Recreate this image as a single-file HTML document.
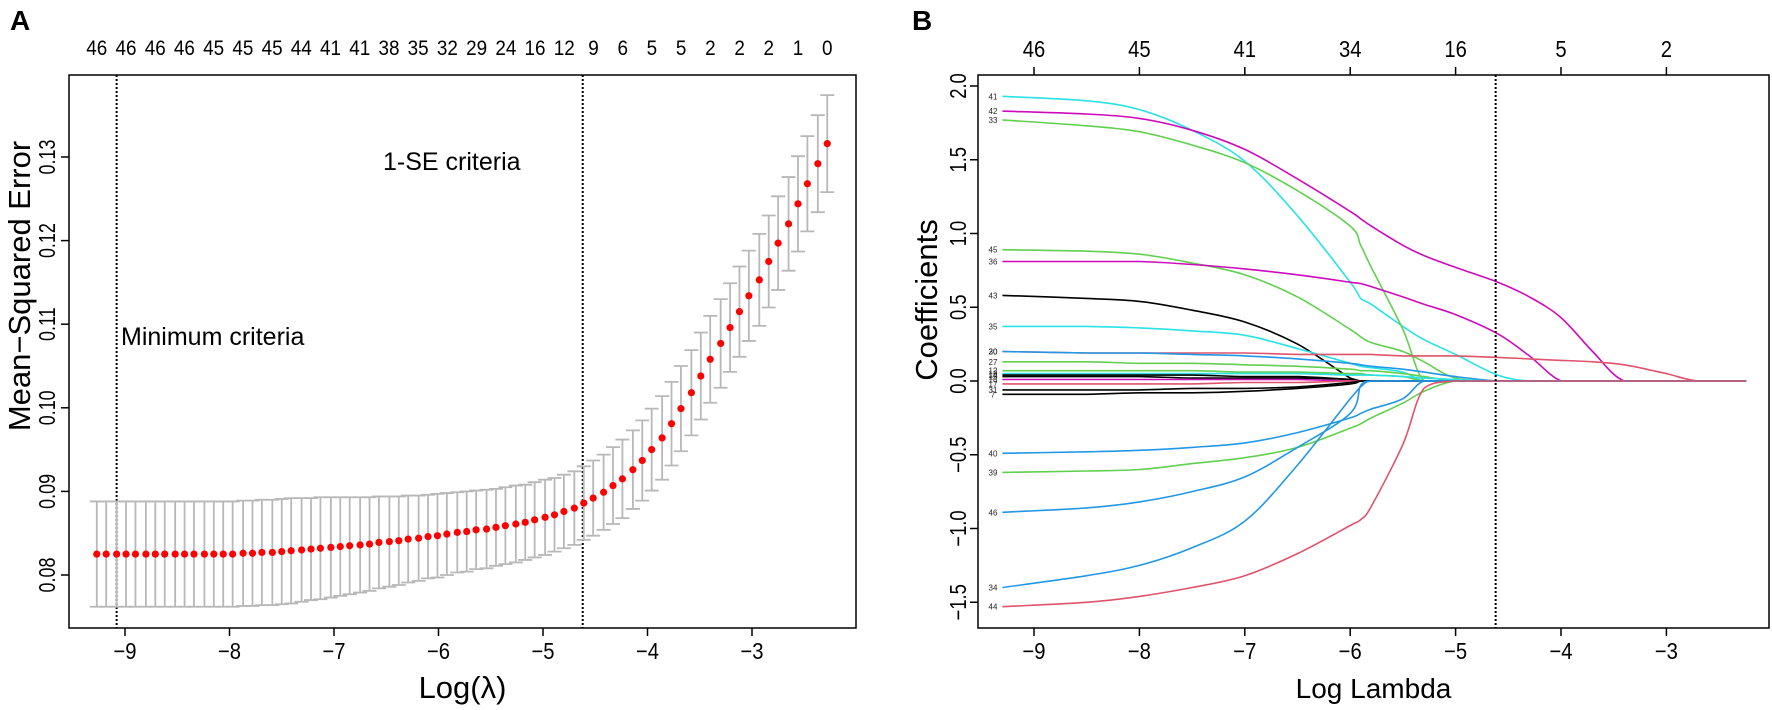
<!DOCTYPE html>
<html><head><meta charset="utf-8"><style>
html,body{margin:0;padding:0;background:#fff;}
svg{display:block;font-family:"Liberation Sans",Arial,sans-serif;}
</style></head><body>
<svg id="chart" width="1772" height="710" viewBox="0 0 1772 710" xmlns="http://www.w3.org/2000/svg">
<text x="10" y="30" font-size="28" font-weight="bold">A</text>
<text x="912" y="30" font-size="28" font-weight="bold">B</text>
<g id="pa"></g>
<g id="pb"></g>
</svg>
<script>
// ---------- Panel A data ----------
const lambdaA = [-9.27,-9.18,-9.08,-8.99,-8.90,-8.80,-8.71,-8.62,-8.52,-8.43,-8.34,-8.24,-8.15,-8.06,-7.97,-7.87,-7.78,-7.69,-7.59,-7.50,-7.41,-7.31,-7.22,-7.13,-7.03,-6.94,-6.85,-6.75,-6.66,-6.57,-6.47,-6.38,-6.29,-6.19,-6.10,-6.01,-5.92,-5.82,-5.73,-5.64,-5.54,-5.45,-5.36,-5.26,-5.17,-5.08,-4.98,-4.89,-4.80,-4.70,-4.61,-4.52,-4.42,-4.33,-4.24,-4.14,-4.05,-3.96,-3.86,-3.77,-3.68,-3.58,-3.49,-3.40,-3.30,-3.21,-3.12,-3.03,-2.93,-2.84,-2.75,-2.65,-2.56,-2.47,-2.37,-2.28];
const mseA = [0.0825,0.0825,0.0825,0.0825,0.0825,0.0825,0.0825,0.0825,0.0825,0.0825,0.0825,0.0825,0.0825,0.0825,0.0825,0.0826,0.0826,0.0827,0.0827,0.0828,0.0829,0.0830,0.0831,0.0832,0.0833,0.0834,0.0835,0.0836,0.0837,0.0839,0.0840,0.0841,0.0843,0.0844,0.0846,0.0847,0.0849,0.0851,0.0852,0.0854,0.0855,0.0857,0.0859,0.0861,0.0863,0.0866,0.0869,0.0872,0.0876,0.0880,0.0886,0.0892,0.0899,0.0907,0.0915,0.0926,0.0937,0.0950,0.0964,0.0981,0.0999,0.1018,0.1038,0.1058,0.1077,0.1096,0.1115,0.1134,0.1153,0.1175,0.1197,0.1220,0.1244,0.1268,0.1292,0.1316];
const seA = [0.0063,0.0063,0.0063,0.0063,0.0063,0.0063,0.0063,0.0063,0.0063,0.0063,0.0063,0.0063,0.0063,0.0063,0.0063,0.0063,0.0063,0.0063,0.0063,0.0063,0.0063,0.0062,0.0061,0.0061,0.0060,0.0059,0.0058,0.0057,0.0056,0.0055,0.0054,0.0053,0.0052,0.0051,0.0050,0.0050,0.0049,0.0048,0.0048,0.0047,0.0047,0.0046,0.0046,0.0046,0.0045,0.0045,0.0045,0.0044,0.0044,0.0044,0.0044,0.0045,0.0045,0.0046,0.0047,0.0047,0.0048,0.0049,0.0050,0.0050,0.0051,0.0051,0.0052,0.0052,0.0053,0.0053,0.0054,0.0054,0.0055,0.0055,0.0056,0.0056,0.0057,0.0057,0.0058,0.0058];
const topLabelsA = ["46","46","46","46","45","45","45","44","41","41","38","35","32","29","24","16","12","9","6","5","5","2","2","2","1","0"];
const xTicksA = [-9,-8,-7,-6,-5,-4,-3];
const yTicksA = [0.08,0.09,0.10,0.11,0.12,0.13];
const yTickLabelsA = ["0.08","0.09","0.10","0.11","0.12","0.13"];
const vlinesA = [-9.08,-4.62];

// ---------- Panel B data ----------
const lambdaB = [-9.3,-8.5,-8,-7.5,-7,-6.5,-6,-5.9,-5.8,-5.5,-5.3,-5,-4.6,-4.3,-4,-3.7,-3.4,-3,-2.7,-2.24];
const varNames = ["41","42","33","45","36","43","35","30","20","27","12","13","14","15","16","17","31","7","40","39","46","34","44"];
const varColors = ["#28E2E5","#CD0BBC","#61D04F","#61D04F","#CD0BBC","#000000","#28E2E5","#DF536B","#2297E6","#61D04F","#61D04F","#28E2E5","#000000","#000000","#CD0BBC","#DF536B","#000000","#000000","#2297E6","#61D04F","#2297E6","#2297E6","#DF536B"];
const c41 = [1.93,1.90,1.84,1.70,1.49,1.12,0.67,0.56,0.52,0.37,0.28,0.18,0.04,0,0,0,0,0,0,0];
const c42 = [1.83,1.81,1.78,1.70,1.57,1.37,1.15,1.10,1.05,0.92,0.85,0.77,0.67,0.57,0.43,0.20,0,0,0,0];
const c33 = [1.77,1.73,1.69,1.60,1.48,1.29,1.05,0.92,0.77,0.35,0,0,0,0,0,0,0,0,0,0];
const c45 = [0.89,0.88,0.86,0.80,0.72,0.57,0.35,0.30,0.26,0.20,0.13,0.02,0,0,0,0,0,0,0,0];
const c36 = [0.81,0.81,0.81,0.79,0.76,0.72,0.67,0.66,0.64,0.57,0.52,0.45,0.32,0.17,0,0,0,0,0,0];
const c43 = [0.58,0.56,0.54,0.48,0.40,0.25,0.02,0,0,0,0,0,0,0,0,0,0,0,0,0];
const c35 = [0.37,0.37,0.36,0.34,0.31,0.22,0.12,0.10,0.09,0.06,0,0,0,0,0,0,0,0,0,0];
const c30 = [0.20,0.19,0.19,0.19,0.19,0.18,0.18,0.18,0.18,0.17,0.17,0.17,0.16,0.15,0.14,0.13,0.11,0.05,0,0];
const c20 = [0.20,0.19,0.19,0.18,0.17,0.15,0.12,0.11,0.10,0.08,0.06,0.03,0,0,0,0,0,0,0,0];
const c27 = [0.13,0.13,0.12,0.12,0.11,0.10,0.08,0.07,0.07,0.05,0.03,0,0,0,0,0,0,0,0,0];
const c12 = [0.07,0.07,0.07,0.07,0.06,0.06,0.05,0.05,0.04,0.03,0,0,0,0,0,0,0,0,0,0];
const c13 = [0.05,0.05,0.05,0.05,0.05,0.05,0.04,0.04,0.04,0.03,0.02,0.01,0,0,0,0,0,0,0,0];
const c14 = [0.04,0.04,0.04,0.04,0.03,0.03,0.01,0,0,0,0,0,0,0,0,0,0,0,0,0];
const c15 = [0.03,0.03,0.03,0.02,0.02,0.02,0.01,0,0,0,0,0,0,0,0,0,0,0,0,0];
const c16 = [0.01,0.01,0.01,0.01,0.01,0.01,0,0,0,0,0,0,0,0,0,0,0,0,0,0];
const c17 = [-0.02,-0.02,-0.02,-0.02,-0.01,-0.01,0,0,0,0,0,0,0,0,0,0,0,0,0,0];
const c31 = [-0.06,-0.06,-0.06,-0.05,-0.05,-0.04,-0.01,0,0,0,0,0,0,0,0,0,0,0,0,0];
const c7 = [-0.09,-0.09,-0.08,-0.08,-0.07,-0.05,-0.02,0,0,0,0,0,0,0,0,0,0,0,0,0];
const c40 = [-0.49,-0.48,-0.47,-0.45,-0.42,-0.35,-0.25,-0.22,-0.19,-0.12,0,0,0,0,0,0,0,0,0,0];
const c39 = [-0.62,-0.61,-0.60,-0.56,-0.52,-0.45,-0.32,-0.29,-0.25,-0.15,-0.07,0,0,0,0,0,0,0,0,0];
const c46 = [-0.89,-0.86,-0.82,-0.75,-0.65,-0.45,-0.22,-0.03,0,0,0,0,0,0,0,0,0,0,0,0];
const c34 = [-1.40,-1.32,-1.25,-1.13,-0.95,-0.57,-0.12,-0.04,0,0,0,0,0,0,0,0,0,0,0,0];
const c44 = [-1.53,-1.50,-1.46,-1.40,-1.32,-1.17,-0.98,-0.94,-0.85,-0.43,-0.05,0,0,0,0,0,0,0,0,0];
const coefSeries = [c41,c42,c33,c45,c36,c43,c35,c30,c20,c27,c12,c13,c14,c15,c16,c17,c31,c7,c40,c39,c46,c34,c44];
const topTicksB = [-9,-8,-7,-6,-5,-4,-3];
const topLabelsB = ["46","45","41","34","16","5","2"];
const xTicksB = [-9,-8,-7,-6,-5,-4,-3];
const yTicksB = [-1.5,-1.0,-0.5,0.0,0.5,1.0,1.5,2.0];
const yTickLabelsB = ["\u22121.5","\u22121.0","\u22120.5","0.0","0.5","1.0","1.5","2.0"];
const vlineB = -4.62;

const NS = "http://www.w3.org/2000/svg";
function mk(parent, tag, attrs, txt){
  const e = document.createElementNS(NS, tag);
  for (const k in attrs) e.setAttribute(k, attrs[k]);
  if (txt !== undefined) e.textContent = txt;
  parent.appendChild(e);
  return e;
}
function smooth(pts){
  let d = 'M'+pts[0][0].toFixed(1)+','+pts[0][1].toFixed(1);
  for (let i=0;i<pts.length-1;i++){
    const p0 = pts[i-1]||pts[i], p1 = pts[i], p2 = pts[i+1], p3 = pts[i+2]||pts[i+1];
    let c1y = p1[1]+(p2[1]-p0[1])/6, c2y = p2[1]-(p3[1]-p1[1])/6;
    const lo = Math.min(p1[1],p2[1]), hi = Math.max(p1[1],p2[1]);
    c1y = Math.max(lo,Math.min(hi,c1y)); c2y = Math.max(lo,Math.min(hi,c2y));
    const c1x = p1[0]+(p2[0]-p0[0])/6, c2x = p2[0]-(p3[0]-p1[0])/6;
    d += 'C'+c1x.toFixed(1)+','+c1y.toFixed(1)+' '+c2x.toFixed(1)+','+c2y.toFixed(1)+' '+p2[0].toFixed(1)+','+p2[1].toFixed(1);
  }
  return d;
}
const T = 75, B = 628;

// ---------- Panel A ----------
const pa = document.getElementById('pa');
const axA = { l:69, r:856 };
const xA = v => 125 + (v + 9) * 104.5;
const yA = v => 575 - (v - 0.08) * 8360;
let el;
el = mk(pa,'rect',{x:axA.l,y:T,width:axA.r-axA.l,height:B-T,fill:'none',stroke:'#000','stroke-width':1.5});


xTicksA.forEach(t=>{
  el = mk(pa,'line',{x1:xA(t),x2:xA(t),y1:B,y2:B+8,stroke:'#000','stroke-width':1.5});
  
  
  el = mk(pa,'text',{x:0,y:0,'font-size':23,'text-anchor':'middle',transform:`translate(${xA(t)},${B+31}) scale(0.88,1)`},'\u2212'+Math.abs(t));
  
  
});
yTicksA.forEach((t,i)=>{
  el = mk(pa,'line',{x1:axA.l-8,x2:axA.l,y1:yA(t),y2:yA(t),stroke:'#000','stroke-width':1.5});
  
  
  el = mk(pa,'text',{x:0,y:0,'font-size':23,'text-anchor':'middle',transform:`translate(55,${yA(t)}) rotate(-90) scale(0.78,1)`},yTickLabelsA[i]);
  
  
});
el = mk(pa,'text',{x:0,y:0,'font-size':31,'text-anchor':'middle',transform:'translate(30,286) rotate(-90)'},'Mean\u2212Squared Error');


el = mk(pa,'text',{x:(axA.l+axA.r)/2,y:698,'font-size':31,'text-anchor':'middle'},'Log(\u03bb)');


topLabelsA.forEach((s,k)=>{
  const lam = lambdaA[0] + k*(lambdaA[lambdaA.length-1]-lambdaA[0])/(topLabelsA.length-1);
  el = mk(pa,'text',{x:0,y:0,'font-size':21,'text-anchor':'middle',transform:`translate(${xA(lam)},55) scale(0.9,1)`},s);
  
  
});
vlinesA.forEach(v=>{
  el = mk(pa,'line',{x1:xA(v),x2:xA(v),y1:T,y2:B,stroke:'#000','stroke-width':2,'stroke-dasharray':'2,2'});
  
  
});
lambdaA.forEach((l,i)=>{
  const x = xA(l), up = yA(mseA[i]+seA[i]), lo = yA(mseA[i]-seA[i]);
  el = mk(pa,'path',{d:`M${x},${up}V${lo}M${x-7},${up}H${x+7}M${x-7},${lo}H${x+7}`,stroke:'#b8b8b8','stroke-width':1.8,fill:'none'});
  
  
});
lambdaA.forEach((l,i)=>{
  el = mk(pa,'circle',{cx:xA(l),cy:yA(mseA[i]),r:3.6,fill:'#ff0000'});
  
  
});
el = mk(pa,'text',{x:121,y:345,'font-size':25},'Minimum criteria');


el = mk(pa,'text',{x:383,y:170,'font-size':25},'1-SE criteria');



// ---------- Panel B ----------
const pb = document.getElementById('pb');
const axB = { l:978, r:1769 };
const xB = v => 1034 + (v + 9) * 105.4;
const yB = v => 381 - v * 147.5;
el = mk(pb,'rect',{x:axB.l,y:T,width:axB.r-axB.l,height:B-T,fill:'none',stroke:'#000','stroke-width':1.5});


xTicksB.forEach(t=>{
  el = mk(pb,'line',{x1:xB(t),x2:xB(t),y1:B,y2:B+8,stroke:'#000','stroke-width':1.5});
  
  
  el = mk(pb,'text',{x:0,y:0,'font-size':23,'text-anchor':'middle',transform:`translate(${xB(t)},${B+31}) scale(0.88,1)`},'\u2212'+Math.abs(t));
  
  
});
topTicksB.forEach((t,i)=>{
  el = mk(pb,'line',{x1:xB(t),x2:xB(t),y1:T-8,y2:T,stroke:'#000','stroke-width':1.5});
  
  
  el = mk(pb,'text',{x:0,y:0,'font-size':23,'text-anchor':'middle',transform:`translate(${xB(t)},57) scale(0.88,1)`},topLabelsB[i]);
  
  
});
yTicksB.forEach((t,i)=>{
  el = mk(pb,'line',{x1:axB.l-8,x2:axB.l,y1:yB(t),y2:yB(t),stroke:'#000','stroke-width':1.5});
  
  
  el = mk(pb,'text',{x:0,y:0,'font-size':23,'text-anchor':'middle',transform:`translate(966,${yB(t)}) rotate(-90) scale(0.8,1)`},yTickLabelsB[i]);
  
  
});
el = mk(pb,'text',{x:0,y:0,'font-size':31,'text-anchor':'middle',transform:'translate(937,300) rotate(-90)'},'Coefficients');


el = mk(pb,'text',{x:(axB.l+axB.r)/2,y:698,'font-size':28,'text-anchor':'middle'},'Log Lambda');


coefSeries.forEach((s,j)=>{
  const pts = s.map((v,i)=>[xB(lambdaB[i]), yB(v)]);
  el = mk(pb,'path',{d:smooth(pts),fill:'none',stroke:varColors[j],'stroke-width':1.6,'stroke-linejoin':'round'});
  
  
  el = mk(pb,'text',{x:993,y:yB(s[0])+3,'font-size':8,'text-anchor':'middle',fill:'#222'},varNames[j]);
  
  
});
el = mk(pb,'line',{x1:xB(vlineB),x2:xB(vlineB),y1:T,y2:B,stroke:'#000','stroke-width':2,'stroke-dasharray':'2,2'});


</script>
</body></html>
